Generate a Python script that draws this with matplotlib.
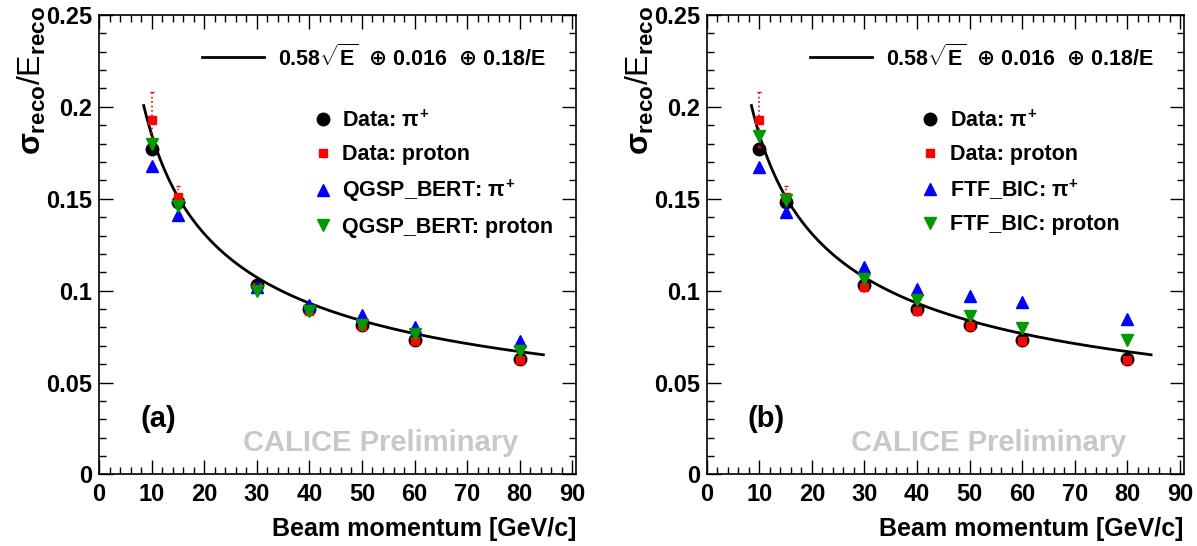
import numpy as np
import matplotlib.pyplot as plt
from matplotlib.ticker import MultipleLocator

plt.rcParams['font.family'] = ['Liberation Sans', 'DejaVu Sans']
plt.rcParams['font.weight'] = 'bold'
plt.rcParams['mathtext.fontset'] = 'custom'
plt.rcParams['mathtext.rm'] = 'Liberation Sans:bold'
plt.rcParams['mathtext.it'] = 'Liberation Sans:bold'
plt.rcParams['mathtext.bf'] = 'Liberation Sans:bold'
plt.rcParams['mathtext.sf'] = 'DejaVu Sans'

# Beam momenta [GeV/c]
energies = np.array([10, 15, 30, 40, 50, 60, 80])

# Measured resolution
data_pi = np.array([0.177, 0.148, 0.103, 0.090, 0.0815, 0.073, 0.063])
data_p = np.array([0.193, 0.151, 0.102, 0.089, 0.0806, 0.0725, 0.0625])
data_p_err = np.array([0.015, 0.006, 0.0, 0.0, 0.0, 0.0, 0.0])

# Simulation
qgsp_pi = np.array([0.168, 0.1413, 0.102, 0.0924, 0.0866, 0.080, 0.0725])
qgsp_p = np.array([0.180, 0.146, 0.0996, 0.0888, 0.0815, 0.0765, 0.0674])
ftf_pi = np.array([0.1672, 0.1428, 0.1127, 0.1011, 0.0969, 0.0937, 0.0846])
ftf_p = np.array([0.1839, 0.1495, 0.1063, 0.0947, 0.086, 0.0797, 0.073])

# Fit: stochastic, constant, noise terms
stoch, const, noise = 0.58, 0.016, 0.18
fit_range = (8.5, 84.5)

panels = [
    ("(a)", "QGSP_BERT", qgsp_pi, qgsp_p, 0.0827),
    ("(b)", "FTF_BIC", ftf_pi, ftf_p, 0.5904),
]

fig = plt.figure(figsize=(11.97, 5.46), dpi=100)

for tag, model, sim_pi, sim_p, left in panels:
    ax = fig.add_axes([left, 0.131, 0.3985, 0.8416])

    e = np.linspace(fit_range[0], fit_range[1], 300)
    res = np.sqrt((stoch / np.sqrt(e)) ** 2 + const ** 2 + (noise / e) ** 2)
    fit_line, = ax.plot(e, res, color='black', lw=2, zorder=2)

    h1, = ax.plot(energies, data_pi, 'o', color='black', ms=9, zorder=3)
    eb = ax.errorbar(energies, data_p, yerr=data_p_err, fmt='s', color='red',
                     ms=5.5, elinewidth=1.2, capsize=1.5, zorder=4)
    eb[2][0].set_linestyle(':')
    h3, = ax.plot(energies, sim_pi, '^', color='#0000ff', ms=8.5, zorder=5)
    h4, = ax.plot(energies, sim_p, 'v', color='#009900', ms=8.5, zorder=6)

    leg1 = ax.legend([fit_line],
                     [r'0.58$\sqrt{E}$  $\mathsf{\oplus}$ 0.016  $\mathsf{\oplus}$ 0.18/E'],
                     loc='upper left', bbox_to_anchor=(0.216, 0.937),
                     frameon=False, fontsize=15.5, handlelength=2.9,
                     handletextpad=0.65, borderpad=0, borderaxespad=0)
    ax.add_artist(leg1)
    ax.legend([h1, eb[0], h3, h4],
              [r'Data: $\pi^{+}$', 'Data: proton',
               model + r': $\pi^{+}$', model + ': proton'],
              loc='upper left', bbox_to_anchor=(0.4465, 0.793),
              frameon=False, fontsize=15.5, handlelength=1.0,
              handletextpad=0.4, labelspacing=0.58, borderpad=0,
              borderaxespad=0)

    ax.text(0.086, 0.121, tag, transform=ax.transAxes, fontsize=21,
            fontweight='bold', ha='left', va='center')
    ax.text(0.591, 0.068, 'CALICE Preliminary', transform=ax.transAxes,
            fontsize=21, fontweight='bold', color='#c8c8c8',
            ha='center', va='center')

    ax.set_xlim(0, 90.7)
    ax.set_ylim(0, 0.25)
    ax.xaxis.set_major_locator(MultipleLocator(10))
    ax.xaxis.set_minor_locator(MultipleLocator(2))
    ax.yaxis.set_major_locator(MultipleLocator(0.05))
    ax.yaxis.set_minor_locator(MultipleLocator(0.01))
    ax.set_yticks([0, 0.05, 0.1, 0.15, 0.2, 0.25])
    ax.set_yticklabels(['0', '0.05', '0.1', '0.15', '0.2', '0.25'])
    ax.tick_params(which='both', direction='in', top=True, right=True,
                   labelsize=17, width=1)
    ax.tick_params(which='major', length=10)
    ax.tick_params(which='minor', length=5)
    ax.tick_params(axis='x', which='major', pad=6)
    ax.tick_params(axis='y', which='major', pad=5)
    for s in ax.spines.values():
        s.set_linewidth(1.2)

    ax.set_xlabel('Beam momentum [GeV/c]', fontsize=18, fontweight='bold',
                  loc='right', labelpad=8)
    ax.set_ylabel(r'$\sigma_{reco}$/E$_{reco}$', fontsize=23, loc='top')
    ax.yaxis.set_label_coords(-0.106, 1.02)

fig.savefig('out.png', dpi=100)
